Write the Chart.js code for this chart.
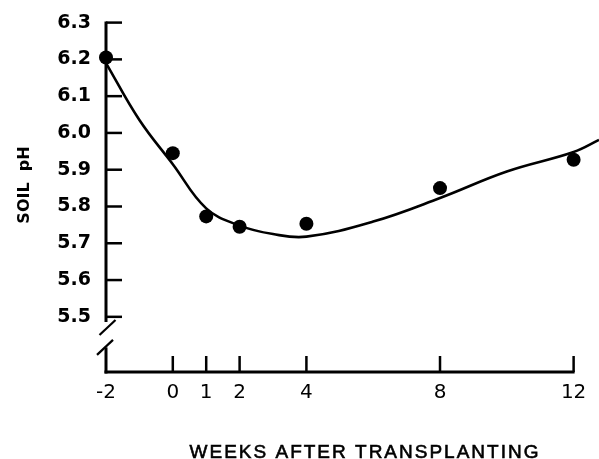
<!DOCTYPE html>
<html><head><meta charset="utf-8">
<script src="https://cdn.jsdelivr.net/npm/chart.js@4/dist/chart.umd.min.js"></script>
<style>html,body{margin:0;padding:0;background:#fff;}canvas{display:block;}</style>
</head><body>
<canvas id="c" width="599" height="459" style="width:599px;height:459px"></canvas>
<script>
// Observed soil pH
const weeks = [-2, 0, 1, 2, 4, 8, 12];
const soilPH = [6.205, 5.945, 5.773, 5.745, 5.753, 5.85, 5.927];
// Fitted curve
const curveWeeks = [-2, -1, 0, 1, 2, 3, 4, 6, 8, 10, 12, 12.76];
const curvePH = [6.19, 6.035, 5.915, 5.795, 5.748, 5.725, 5.718, 5.759, 5.823, 5.895, 5.948, 5.981];
// Axes
const xTickValues = [-2, 0, 1, 2, 4, 8, 12];
const xTickLabels = ['-2', '0', '1', '2', '4', '8', '12'];
const yTickValues = [5.5, 5.6, 5.7, 5.8, 5.9, 6.0, 6.1, 6.2, 6.3];
const yTickLabels = ['5.5', '5.6', '5.7', '5.8', '5.9', '6.0', '6.1', '6.2', '6.3'];
const xTitle = 'WEEKS AFTER TRANSPLANTING';
const yTitle = 'SOIL  pH';

const INK = '#000';
const X_AXIS_END = 12;

const handAxes = {
  id: 'handAxes',
  beforeDatasetsDraw(chart) {
    const ctx = chart.ctx;
    const xs = chart.scales.x, ys = chart.scales.y;
    const ax = xs.getPixelForValue(xs.min);
    const by = ys.getPixelForValue(ys.min);
    ctx.save();
    ctx.strokeStyle = INK;
    ctx.lineCap = 'butt';
    ctx.lineWidth = 3;
    ctx.beginPath();
    ctx.moveTo(ax, ys.getPixelForValue(ys.max) - 1);
    ctx.lineTo(ax, ys.getPixelForValue(5.486));
    ctx.stroke();
    ctx.beginPath();
    ctx.moveTo(ax, ys.getPixelForValue(5.417));
    ctx.lineTo(ax, by + 1.5);
    ctx.stroke();
    ctx.lineWidth = 2.2;
    [5.471, 5.417].forEach((v, i) => {
      const cy = ys.getPixelForValue(v);
      const cx = ax + (i === 0 ? 1.5 : -1);
      ctx.beginPath();
      ctx.moveTo(cx - 8, cy + 7.5);
      ctx.lineTo(cx + 8, cy - 7.5);
      ctx.stroke();
    });
    ctx.lineWidth = 3;
    ctx.beginPath();
    ctx.moveTo(ax - 1.5, by);
    ctx.lineTo(xs.getPixelForValue(X_AXIS_END) + 1, by);
    ctx.stroke();
    ctx.lineWidth = 2.5;
    yTickValues.forEach(v => {
      const y = ys.getPixelForValue(v);
      ctx.beginPath();
      ctx.moveTo(ax, y);
      ctx.lineTo(ax + 16, y);
      ctx.stroke();
    });
    xTickValues.forEach(v => {
      if (v === xs.min) return;
      const x = xs.getPixelForValue(v);
      ctx.beginPath();
      ctx.moveTo(x, by);
      ctx.lineTo(x, by - 16);
      ctx.stroke();
    });
    ctx.restore();
  },
  afterDraw(chart) {
    const ctx = chart.ctx;
    ctx.save();
    ctx.fillStyle = INK;
    ctx.strokeStyle = INK;
    ctx.letterSpacing = '2px';
    ctx.font = '19px "Liberation Sans", Arial, sans-serif';
    ctx.textAlign = 'center';
    ctx.textBaseline = 'alphabetic';
    ctx.fillText(xTitle, 365, 458);
    ctx.lineWidth = 0.6;
    ctx.strokeText(xTitle, 365, 458);
    ctx.translate(29, 185);
    ctx.rotate(-Math.PI / 2);
    ctx.letterSpacing = '0px';
    ctx.font = 'bold 16px "DejaVu Sans", sans-serif';
    ctx.fillText(yTitle, 0, 0);
    ctx.restore();
  }
};

new Chart(document.getElementById('c'), {
  type: 'scatter',
  data: {
    datasets: [
      {
        label: 'Fitted',
        data: curveWeeks.map((w, i) => ({ x: w, y: curvePH[i] })),
        showLine: true,
        borderColor: INK,
        borderWidth: 2.6,
        pointRadius: 0,
        tension: 0.4,
        clip: false,
        order: 2
      },
      {
        label: 'Soil pH',
        data: weeks.map((w, i) => ({ x: w, y: soilPH[i] })),
        backgroundColor: INK,
        borderColor: INK,
        pointRadius: 7,
        borderWidth: 0,
        clip: false,
        order: 1
      }
    ]
  },
  options: {
    responsive: false,
    animation: false,
    devicePixelRatio: 1,
    layout: { autoPadding: false, padding: { left: 0, top: 22.6, right: 0, bottom: 0 } },
    plugins: { legend: { display: false }, tooltip: { enabled: false } },
    scales: {
      x: {
        type: 'linear',
        min: -2, max: 12.76,
        grid: { display: false, drawTicks: false },
        border: { display: false },
        afterBuildTicks: s => { s.ticks = xTickValues.map(v => ({ value: v })); },
        afterFit: s => { s.height = 87; s.paddingRight = 0; s.paddingLeft = 0; },
        ticks: {
          autoSkip: false, maxRotation: 0, padding: 9, color: INK,
          font: { family: '"DejaVu Sans", sans-serif', size: 20 },
          callback: v => xTickLabels[xTickValues.indexOf(v)]
        }
      },
      y: {
        type: 'linear',
        min: 5.35, max: 6.3,
        grid: { display: false, drawTicks: false },
        border: { display: false },
        afterBuildTicks: s => { s.ticks = yTickValues.map(v => ({ value: v })); },
        afterFit: s => { s.width = 106; s.paddingTop = 0; s.paddingBottom = 0; },
        ticks: {
          autoSkip: false, padding: 15, color: INK,
          font: { family: '"DejaVu Sans", sans-serif', size: 19, weight: 'bold' },
          callback: v => { const i = yTickValues.findIndex(t => Math.abs(t - v) < 1e-6); return i >= 0 ? yTickLabels[i] : ''; }
        }
      }
    }
  },
  plugins: [handAxes]
});
</script>
</body></html>
